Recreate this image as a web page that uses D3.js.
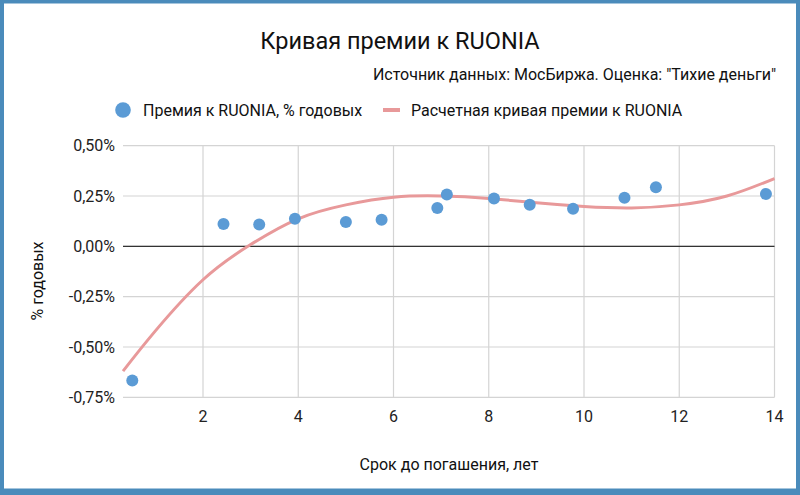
<!DOCTYPE html>
<html><head><meta charset="utf-8">
<script src="https://cdn.jsdelivr.net/npm/d3@7/dist/d3.min.js"></script>
<style>body{margin:0;padding:0;background:#fff}svg{display:block;font-family:Roboto,"Noto Sans",sans-serif}</style>
</head><body>
<svg id="c" width="800" height="495"></svg>
<script>
// Data
const pointX = [0.515, 2.43, 3.18, 3.93, 5.00, 5.75, 6.92, 7.12, 8.11, 8.86, 9.77, 10.85, 11.51, 13.82];
const pointY = [-0.666, 0.111, 0.109, 0.137, 0.121, 0.132, 0.190, 0.257, 0.238, 0.207, 0.187, 0.241, 0.293, 0.260];
const curveX = [0.32, 1, 2, 3, 4, 5, 6, 7, 8, 9, 10, 11, 12, 13, 14];
const curveY = [-0.620, -0.420, -0.166, 0.009, 0.137, 0.206, 0.244, 0.250, 0.238, 0.216, 0.198, 0.191, 0.206, 0.250, 0.337];
const xTicks = [2, 4, 6, 8, 10, 12, 14];
const yTicks = [-0.75, -0.5, -0.25, 0, 0.25, 0.5];
const title = "Кривая премии к RUONIA";
const subtitle = "Источник данных: МосБиржа. Оценка: \"Тихие деньги\"";
const seriesNames = ["Премия к RUONIA, % годовых", "Расчетная кривая премии к RUONIA"];
const xTitle = "Срок до погашения, лет";
const yTitle = "% годовых";

const svg = d3.select("#c");
const W = 800, H = 495;
// frame
svg.append("rect").attr("x",0).attr("y",0).attr("width",W).attr("height",H).attr("fill","#4a8bbb");
svg.append("rect").attr("x",4).attr("y",3.5).attr("width",792).attr("height",485).attr("fill","#fff");

const L = 123, R = 774.5, T = 145.7, B = 397.3;
const x = d3.scaleLinear().domain([0.32, 14]).range([L, R]);
const y = d3.scaleLinear().domain([-0.75, 0.5]).range([B, T]);

// grid
const g = svg.append("g");
g.selectAll(".hg").data(yTicks).enter().append("line")
  .attr("x1", L).attr("x2", R).attr("y1", d=>y(d)).attr("y2", d=>y(d))
  .attr("stroke", "#d4d4d4").attr("stroke-width", 1.2);
g.selectAll(".vg").data(xTicks).enter().append("line")
  .attr("x1", d=>x(d)).attr("x2", d=>x(d)).attr("y1", T).attr("y2", B)
  .attr("stroke", "#d4d4d4").attr("stroke-width", 1.2);
// zero line
g.append("line").attr("x1", L).attr("x2", R).attr("y1", y(0)).attr("y2", y(0))
  .attr("stroke", "#333").attr("stroke-width", 1.3);

const FS = 16;
// y tick labels
const fmt = d => d3.format(".2f")(d).replace(".", ",").replace("−","-") + "%";
svg.append("g").selectAll("text").data(yTicks).enter().append("text")
  .attr("x", 115).attr("y", d=>y(d)).attr("dy", "0.35em").attr("text-anchor", "end")
  .attr("font-size", FS).attr("fill", "#222").text(fmt);
// x tick labels
svg.append("g").selectAll("text").data(xTicks).enter().append("text")
  .attr("x", d=>x(d)).attr("y", 422).attr("text-anchor", "middle")
  .attr("font-size", FS).attr("fill", "#222").text(d=>d);

// curve
const line = d3.line().x(d=>x(d[0])).y(d=>y(d[1])).curve(d3.curveNatural);
svg.append("path").datum(curveX.map((v,i)=>[v, curveY[i]]))
  .attr("d", line).attr("fill","none").attr("stroke","#e8999a").attr("stroke-width",3);

// points
svg.append("g").selectAll("circle").data(pointX.map((v,i)=>[v, pointY[i]])).enter().append("circle")
  .attr("cx", d=>x(d[0])).attr("cy", d=>y(d[1])).attr("r", 6).attr("fill", "#5b9bd5");

// titles
svg.append("text").attr("x", 400).attr("y", 49).attr("text-anchor","middle")
  .attr("font-size", 23.5).attr("fill","#111").text(title);
svg.append("text").attr("x", 776).attr("y", 80).attr("text-anchor","end")
  .attr("font-size", FS).attr("fill","#111").text(subtitle);

// legend
svg.append("circle").attr("cx",123).attr("cy",110).attr("r",7.8).attr("fill","#5b9bd5");
svg.append("text").attr("x",143).attr("y",116).attr("font-size",FS).attr("fill","#111").text(seriesNames[0]);
svg.append("line").attr("x1",383).attr("x2",400).attr("y1",110).attr("y2",110).attr("stroke","#e8999a").attr("stroke-width",4);
svg.append("text").attr("x",411).attr("y",116).attr("font-size",FS).attr("fill","#111").text(seriesNames[1]);

// axis titles
svg.append("text").attr("x", 449).attr("y", 470).attr("text-anchor","middle")
  .attr("font-size", FS).attr("fill","#111").text(xTitle);
svg.append("text").attr("transform","translate(43,281) rotate(-90)").attr("text-anchor","middle")
  .attr("font-size", FS).attr("fill","#111").text(yTitle);
</script>
</body></html>
